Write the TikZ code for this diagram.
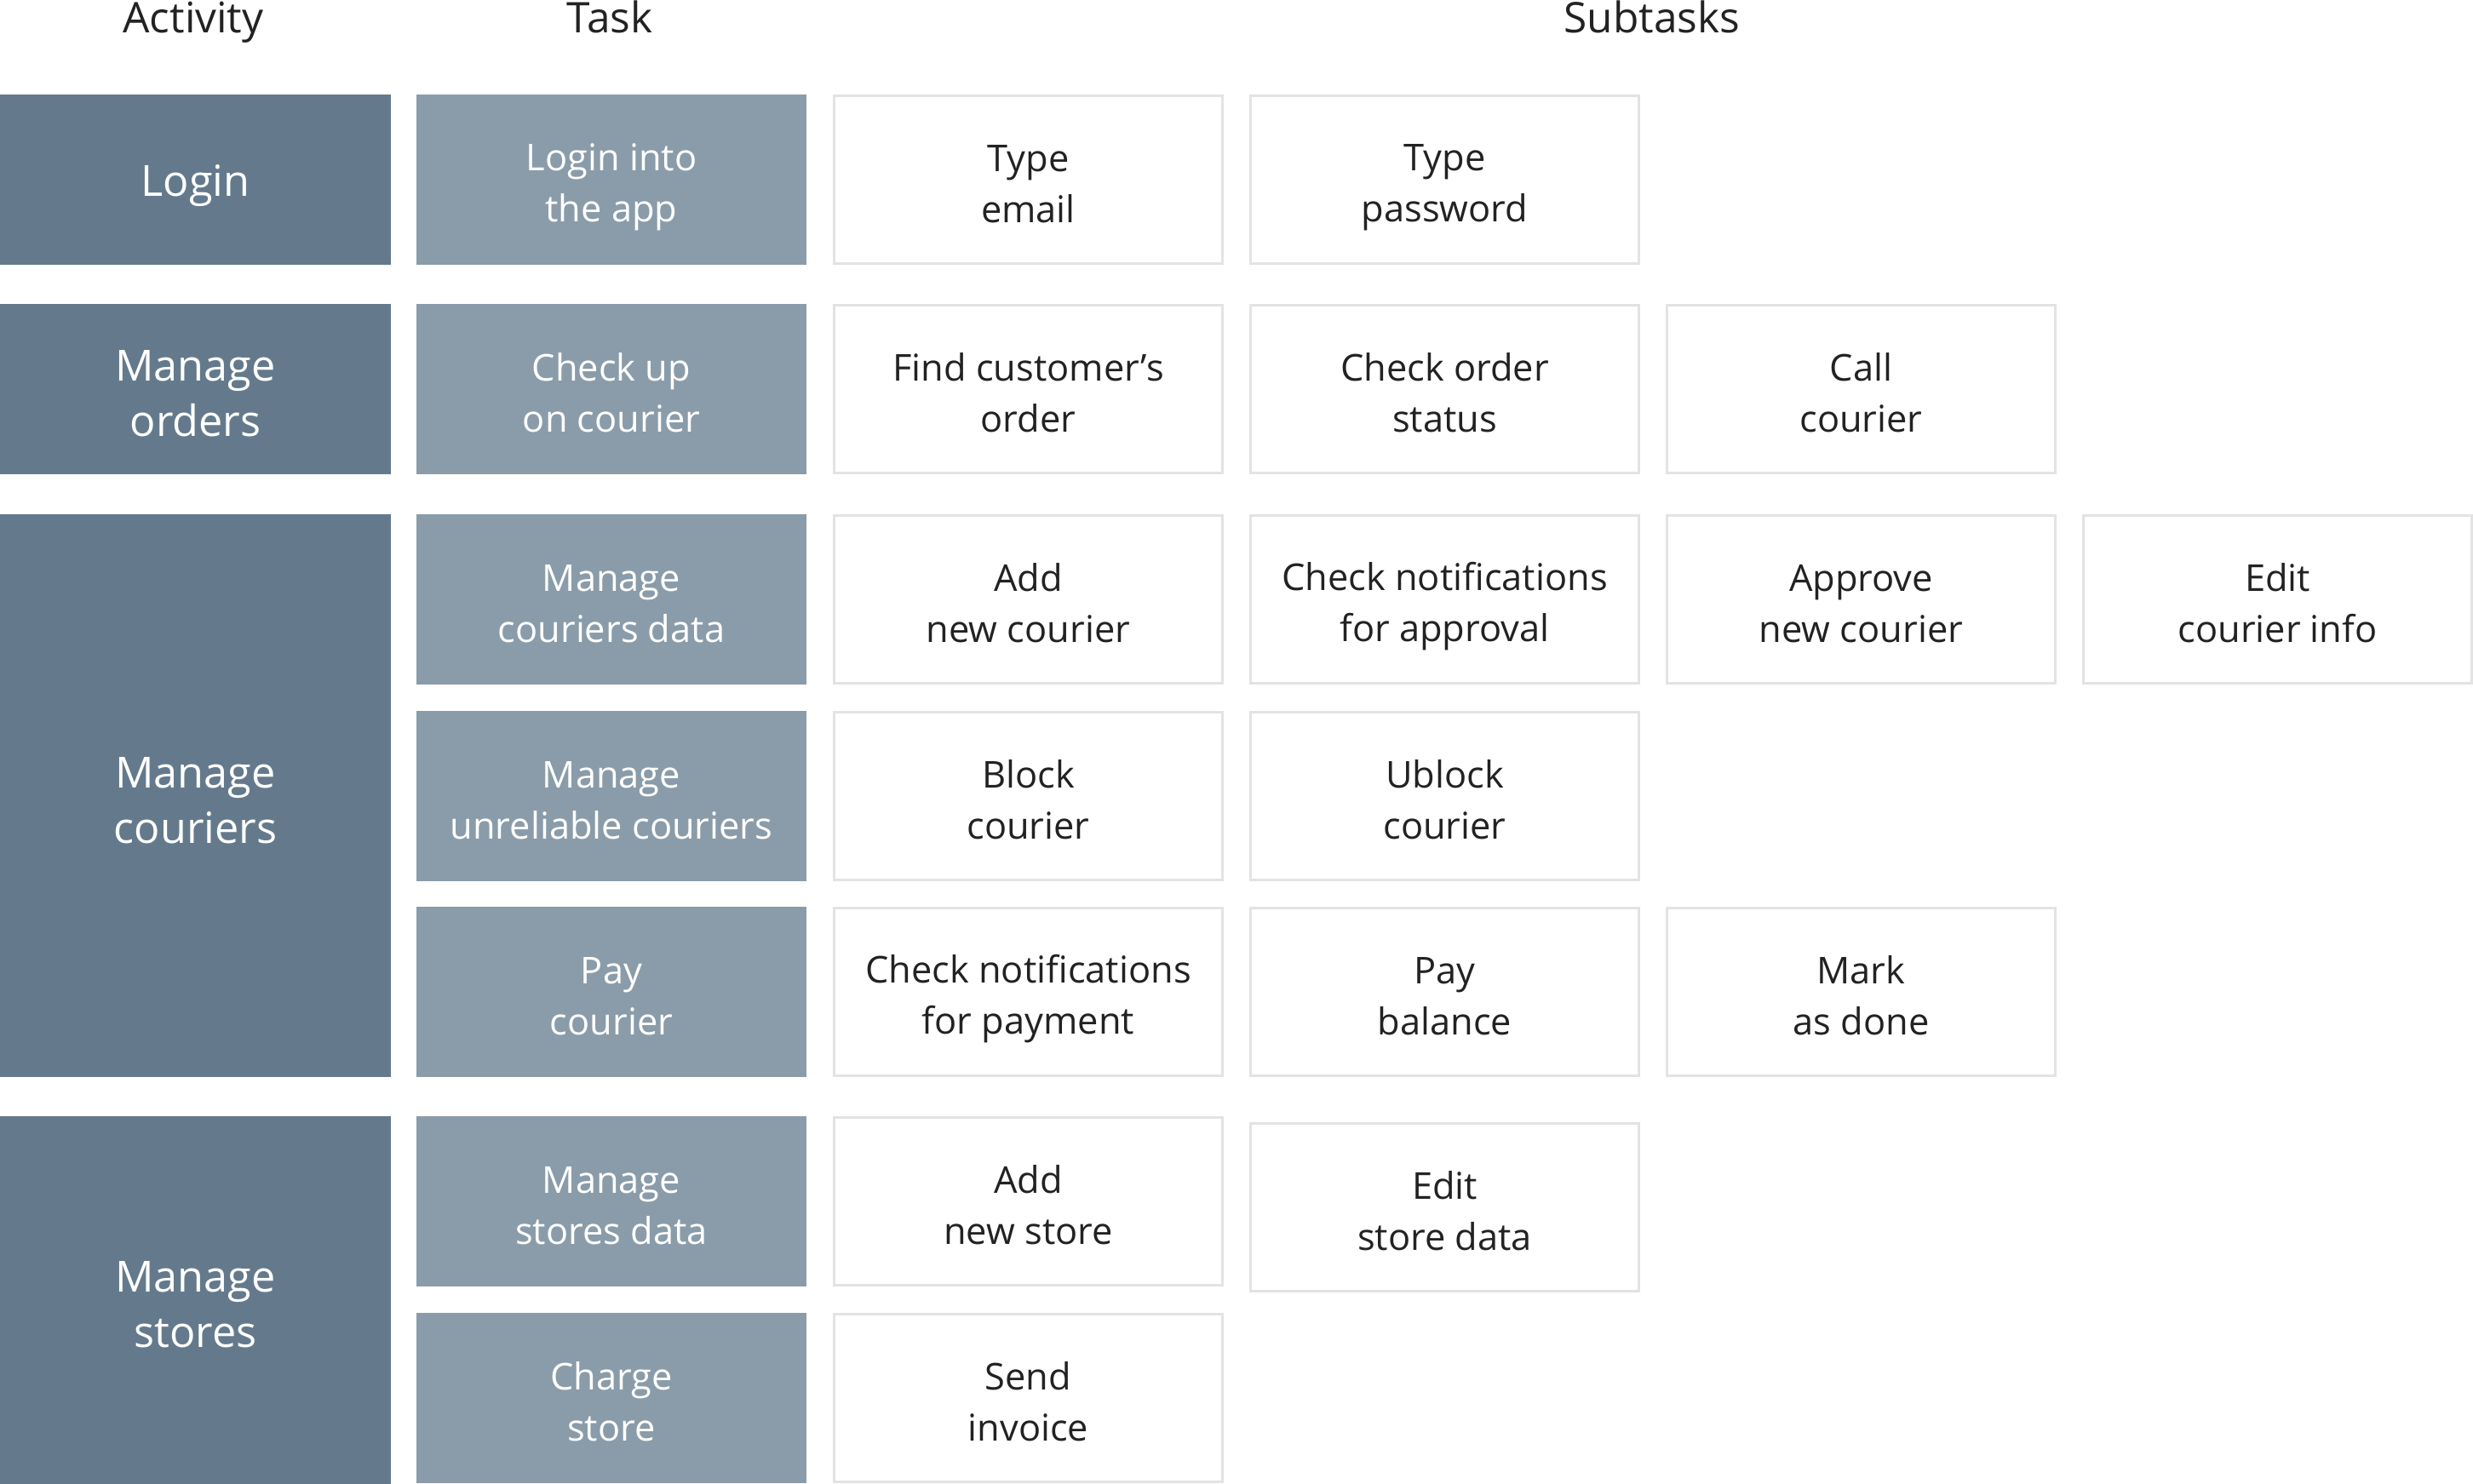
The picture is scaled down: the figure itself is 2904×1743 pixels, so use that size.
\documentclass[tikz,border=0pt]{standalone}
\usepackage{fontspec}
\setmainfont{Open Sans}
\definecolor{actc}{HTML}{647A8C}
\definecolor{taskc}{HTML}{8A9CA9}
\definecolor{subline}{HTML}{E3E3E3}
\definecolor{txt}{HTML}{222222}
\newcommand\nolsk{\lineskiplimit=-20pt\relax}
\newcommand\twolS[2]{\rule[-2.4pt]{0pt}{15pt}#1\\\rule[-2.4pt]{0pt}{15pt}#2}
\newcommand\twolA[2]{\rule[-2.3pt]{0pt}{16.25pt}#1\\\rule[-2.3pt]{0pt}{16.25pt}#2}
\tikzset{
  actbox/.style={rectangle, fill=actc, draw=none, inner sep=0pt, minimum width=114.75pt, minimum height=50pt, text=white, align=center, font=\fontsize{12.6pt}{16.25pt}\selectfont, execute at begin node=\nolsk},
  taskbox/.style={rectangle, fill=taskc, draw=none, inner sep=0pt, minimum width=114.5pt, minimum height=50pt, text=white, align=center, font=\fontsize{10.85pt}{15pt}\selectfont, execute at begin node=\nolsk},
  subbox/.style={rectangle, fill=white, draw=subline, line width=0.75pt, inner sep=0pt, minimum width=114pt, minimum height=49.25pt, text=txt, align=center, font=\fontsize{10.85pt}{15pt}\selectfont, execute at begin node=\nolsk},
  headtxt/.style={anchor=base, text=txt, inner sep=0pt, font=\fontsize{12.4pt}{15pt}\selectfont}
}
\begin{document}
\begin{tikzpicture}[x=0.25pt,y=-0.25pt]
\useasboundingbox (0,0) rectangle (2904,1743);
% headers
\node[headtxt] (hA) at (227,39) {Activity};
\node[headtxt] (hT) at (716,39) {Task};
\node[headtxt] (hS) at (1940,39) {Subtasks};
% activities
\node[actbox, text height=10pt, text depth=0pt] (a1) at (229.5,211) {Login};
\node[actbox] (a2) at (229.5,457) {\twolA{Manage}{orders}};
\node[actbox, minimum height=165.25pt] (a3) at (229.5,934.5) {\twolA{Manage}{couriers}};
\node[actbox, minimum height=108pt] (a4) at (229.5,1527) {\twolA{Manage}{stores}};
% tasks
\node[taskbox] (t1) at (718,211) {\twolS{Login into}{the app}};
\node[taskbox] (t2) at (718,457) {\twolS{Check up}{on courier}};
\node[taskbox] (t3) at (718,704) {\twolS{Manage}{couriers data}};
\node[taskbox] (t4) at (718,935) {\twolS{Manage}{unreliable couriers}};
\node[taskbox] (t5) at (718,1165) {\twolS{Pay}{courier}};
\node[taskbox] (t6) at (718,1411) {\twolS{Manage}{stores data}};
\node[taskbox] (t7) at (718,1642) {\twolS{Charge}{store}};
% subtasks
\node[subbox] (s11) at (1207.5,211) {\twolS{Type}{email}};
\node[subbox] (s12) at (1696.5,211) {\twolS{Type}{password}};
\node[subbox] (s21) at (1207.5,457) {\twolS{Find customer’s}{order}};
\node[subbox] (s22) at (1696.5,457) {\twolS{Check order}{status}};
\node[subbox] (s23) at (2185.5,457) {\twolS{Call}{courier}};
\node[subbox] (s31) at (1207.5,704) {\twolS{Add}{new courier}};
\node[subbox] (s32) at (1696.5,704) {\twolS{Check notifications}{for approval}};
\node[subbox] (s33) at (2185.5,704) {\twolS{Approve}{new courier}};
\node[subbox] (s34) at (2674.5,704) {\twolS{Edit}{courier info}};
\node[subbox] (s41) at (1207.5,935) {\twolS{Block}{courier}};
\node[subbox] (s42) at (1696.5,935) {\twolS{Ublock}{courier}};
\node[subbox] (s51) at (1207.5,1165) {\twolS{Check notifications}{for payment}};
\node[subbox] (s52) at (1696.5,1165) {\twolS{Pay}{balance}};
\node[subbox] (s53) at (2185.5,1165) {\twolS{Mark}{as done}};
\node[subbox] (s61) at (1207.5,1411) {\twolS{Add}{new store}};
\node[subbox] (s62) at (1696.5,1418) {\twolS{Edit}{store data}};
\node[subbox] (s71) at (1207.5,1642) {\twolS{Send}{invoice}};
\end{tikzpicture}
\end{document}
